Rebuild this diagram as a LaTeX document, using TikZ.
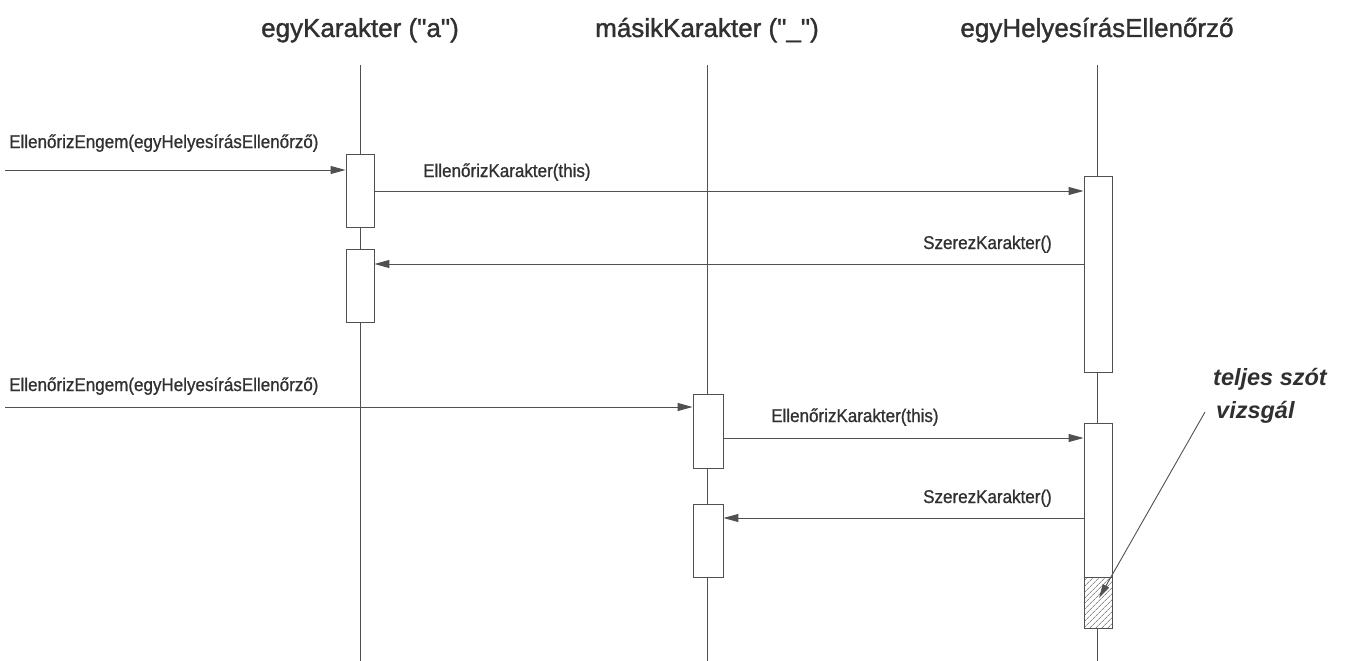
\documentclass[tikz,border=0pt]{standalone}
\usepackage{fontspec}
\setmainfont{Liberation Sans}
\newfontfamily\titlefont[FakeBold=1.3]{Liberation Sans}
\newfontfamily\lblfont[FakeStretch=0.92,FakeBold=0.9]{Liberation Sans}
\usetikzlibrary{arrows.meta,patterns.meta}
\definecolor{ink}{HTML}{303030}
\definecolor{ln}{HTML}{505050}
\begin{document}
\begin{tikzpicture}[x=1pt,y=-1pt,
  title/.style={font=\titlefont\fontsize{26}{30}\selectfont, text=ink, inner sep=0pt},
  lbl/.style={font=\lblfont\fontsize{18.5}{22}\selectfont, text=ink, inner sep=0pt},
  notetext/.style={font=\fontsize{23.5}{28}\selectfont\bfseries\itshape, text=ink, inner sep=0pt},
  life/.style={draw=ln, line width=0.9pt},
  act/.style={draw=ln, fill=white, line width=0.9pt, minimum width=28pt, inner sep=0pt},
  hatchbox/.style={draw=ln, line width=0.9pt, minimum width=28pt, inner sep=0pt,
    pattern={Lines[angle=45,distance=4pt,line width=0.5pt]}, pattern color=ln},
  msg/.style={draw=ln, line width=1pt, -{Triangle[length=15pt,width=8pt]}},
  noteline/.style={draw=ln, line width=0.9pt, -{Triangle[length=14pt,width=7pt]}}]
\useasboundingbox (0,0) rectangle (1347,661);

% titles
\node[title, anchor=base] (T1) at (360,37) {egyKarakter (\textquotedbl a\textquotedbl)};
\node[title, anchor=base] (T2) at (707,37) {másikKarakter (\textquotedbl\_\textquotedbl)};
\node[title, anchor=base] (T3) at (1097,37) {egyHelyesírásEllenőrző};

% lifelines
\coordinate (L1t) at (360,65);  \coordinate (L1b) at (360,661);
\coordinate (L2t) at (707,65);  \coordinate (L2b) at (707,661);
\coordinate (L3t) at (1097,65); \coordinate (L3b) at (1097,661);
\draw[life] (L1t) -- (L1b);
\draw[life] (L2t) -- (L2b);
\draw[life] (L3t) -- (L3b);

% activation boxes
\node[act, minimum height=73pt] (a1) at (360,190.5) {};
\node[act, minimum height=73pt] (a2) at (360,285.5) {};
\node[act, minimum height=196pt] (h1) at (1098,274) {};
\node[act, minimum height=74pt, minimum width=30pt] (m1) at (708,431) {};
\node[act, minimum height=73pt, minimum width=30pt] (m2) at (708,540.5) {};
\node[act, minimum height=205pt] (h2) at (1098,525.5) {};
\node[hatchbox, minimum height=51pt, anchor=south] (hz) at (h2.south) {};

% message rows
\coordinate (s1) at (5,170);
\coordinate (y1) at (0,191);
\coordinate (y2) at (0,264);
\coordinate (s2) at (5,407);
\coordinate (y3) at (0,438);
\coordinate (y4) at (0,518);

\draw[msg] (s1) -- (s1 -| a1.west);
\node[lbl, anchor=base west] (l1) at (9,148) {EllenőrizEngem(egyHelyesírásEllenőrző)};

\draw[msg] (a1.east |- y1) -- (h1.west |- y1);
\node[lbl, anchor=base west] (l2) at (423,177) {EllenőrizKarakter(this)};

\draw[msg] (h1.west |- y2) -- (a2.east |- y2);
\node[lbl, anchor=base east] (l3) at (1052,249) {SzerezKarakter()};

\draw[msg] (s2) -- (s2 -| m1.west);
\node[lbl, anchor=base west] (l4) at (9,391) {EllenőrizEngem(egyHelyesírásEllenőrző)};

\draw[msg] (m1.east |- y3) -- (h2.west |- y3);
\node[lbl, anchor=base west] (l5) at (771,422) {EllenőrizKarakter(this)};

\draw[msg] (h2.west |- y4) -- (m2.east |- y4);
\node[lbl, anchor=base east] (l6) at (1052,503) {SzerezKarakter()};

% note
\node[notetext, anchor=base west] (n1) at (1213,385) {teljes szót};
\node[notetext, anchor=base west] (n2) at (1216,418) {vizsgál};
\coordinate (nt) at (1205,412);
\coordinate (ne) at (1099,598);
\draw[noteline] (nt) -- (ne);
\end{tikzpicture}
\end{document}
